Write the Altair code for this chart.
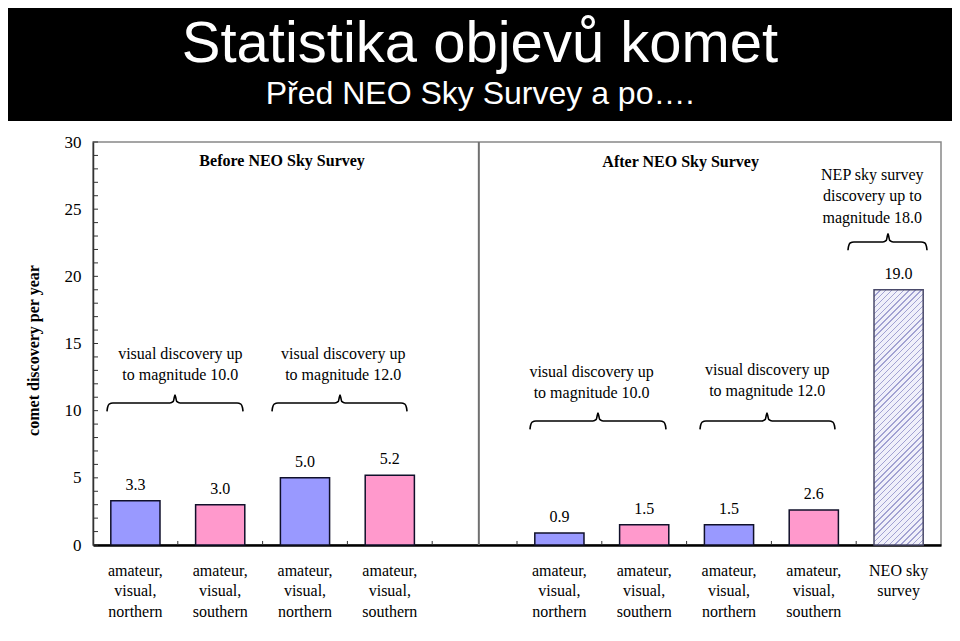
import altair as alt
import pandas as pd

# ---------------- data ----------------
TITLE = "Statistika objevů komet"
SUBTITLE = "Před NEO Sky Survey a po…."

slots = [0, 1, 2, 3, 5, 6, 7, 8, 9]
values = [3.3, 3.0, 5.0, 5.2, 0.9, 1.5, 1.5, 2.6, 19.0]
kinds = ["north", "south", "north", "south", "north", "south", "north", "south", "neo"]
slot_labels = [
    "amateur,|visual,|northern", "amateur,|visual,|southern",
    "amateur,|visual,|northern", "amateur,|visual,|southern",
    "",
    "amateur,|visual,|northern", "amateur,|visual,|southern",
    "amateur,|visual,|northern", "amateur,|visual,|southern",
    "NEO sky|survey",
]
y_title = "comet discovery per year"
y_label_values = [0, 5, 10, 15, 20, 25, 30]

panel_titles = ["Before NEO Sky Survey", "After NEO Sky Survey"]
panel_x = [2.23, 6.93]
panel_y = [28.6, 28.5]

notes = [
    "visual discovery up\nto magnitude 10.0",
    "visual discovery up\nto magnitude 12.0",
    "visual discovery up\nto magnitude 10.0",
    "visual discovery up\nto magnitude 12.0",
    "NEP sky survey\ndiscovery up to\nmagnitude 18.0",
]
note_x = [1.03, 2.95, 5.88, 7.95, 9.19]
note_y = [14.22, 14.22, 12.88, 13.03, 27.55]   # first line of each note

brace_x0 = [0.165, 2.111, 5.153, 7.158, 8.903]
brace_x1 = [1.769, 3.703, 6.757, 8.750, 9.835]
brace_xc = [0.967, 2.913, 5.955, 7.948, 9.375]
brace_y = [10.57, 10.57, 9.23, 9.23, 22.56]

divider_x = 4.55
minor_ticks_y = list(range(0, 31))
boundary_ticks_x = [1, 2, 3, 4, 5, 6, 7, 8, 9]

# ---------------- layout / style ----------------
W, H = 848, 403
SERIF = "Liberation Serif"
SANS = "Liberation Sans"
PAD_IN, PAD_OUT = 0.42, 0.21

yscale = alt.Scale(domain=[0, 30], nice=False, zero=True)
xq_scale = alt.Scale(domain=[0, 10], nice=False, zero=False)


def xo_scale():
    return alt.Scale(domain=list(range(10)), paddingInner=PAD_IN, paddingOuter=PAD_OUT)


def ysh(field):
    # shared y scale; axis properties come from the bars layer
    return alt.Y(field, type="quantitative", scale=yscale)


label_expr = "split(" + str(slot_labels) + "[datum.value], '|')"

df = pd.DataFrame({"slot": slots, "value": values, "kind": kinds})

# header band
header = alt.Chart(pd.DataFrame({"a": [0]})).mark_rect(color="black").encode(
    x=alt.value(-85), x2=alt.value(W + 11), y=alt.value(-134), y2=alt.value(-21)
)
title_txt = alt.Chart(pd.DataFrame({"t": [TITLE]})).mark_text(
    font=SANS, fontSize=58, color="white", align="center", baseline="alphabetic"
).encode(x=alt.value(387), y=alt.value(-80), text="t:N")
subtitle_txt = alt.Chart(pd.DataFrame({"t": [SUBTITLE]})).mark_text(
    font=SANS, fontSize=32, color="white", align="center", baseline="alphabetic"
).encode(x=alt.value(387), y=alt.value(-38), text="t:N")

# amateur bars (carry both axes)
bars = alt.Chart(df).transform_filter("datum.kind != 'neo'").mark_bar(
    stroke="#10102a", strokeWidth=1.5
).encode(
    x=alt.X("slot:O", scale=xo_scale(), axis=alt.Axis(
        labelExpr=label_expr, labelAngle=0, ticks=False, tickSize=0, grid=False,
        domainColor="black", domainWidth=2.5, labelFont=SERIF, labelFontSize=16,
        labelColor="black", labelLineHeight=20.5, labelPadding=17, title=None,
    )),
    y=alt.Y("value:Q", scale=yscale, axis=alt.Axis(
        values=y_label_values, ticks=False, tickSize=0, grid=False,
        domainColor="#333333", domainWidth=1.5, labelFont=SERIF, labelFontSize=17,
        labelColor="black", labelPadding=12, title=y_title, titleFont=SERIF,
        titleFontSize=16, titleFontWeight="bold", titleColor="black",
        titleAngle=270, titleX=-60, titleY=208, titleBaseline="middle", titleAlign="center",
    )),
    color=alt.Color("kind:N", scale=alt.Scale(domain=["north", "south"],
                                              range=["#9999FF", "#FF99CC"]), legend=None),
)

# hatched NEO bar via striped linear gradient
bar_w = W / 10 * (1 - PAD_IN)
bar_h = values[-1] / 30 * H
k = (bar_w + bar_h) / (bar_w ** 2 + bar_h ** 2)
gx2, gy2 = k * bar_w, k * bar_h
n_stripes = 52
frac = 0.24
stops = []
line_c, bg_c = "#a2a2d2", "#f0f0fa"
for i in range(n_stripes):
    o0 = i / n_stripes
    o1 = (i + frac) / n_stripes
    o2 = (i + 1) / n_stripes
    stops += [
        {"offset": round(o0, 5), "color": line_c},
        {"offset": round(o1, 5), "color": line_c},
        {"offset": round(o1, 5), "color": bg_c},
        {"offset": round(o2, 5), "color": bg_c},
    ]
hatch = {"gradient": "linear", "x1": 0, "y1": 0, "x2": gx2, "y2": gy2, "stops": stops}

neo_bar = alt.Chart(df).transform_filter("datum.kind == 'neo'").mark_bar(
    fill=hatch, stroke="#4a4a6a", strokeWidth=1.5
).encode(
    x=alt.X("slot:O", scale=xo_scale(), axis=None),
    y=ysh("value"),
)

value_labels = alt.Chart(df).mark_text(
    font=SERIF, fontSize=16, color="black", baseline="alphabetic", dy=-11
).encode(
    x=alt.X("slot:O", scale=xo_scale(), axis=None),
    y=ysh("value"),
    text=alt.Text("value:Q", format=".1f"),
)

# inward minor ticks on y axis
yticks = alt.Chart(pd.DataFrame({"value": minor_ticks_y})).mark_rule(
    color="#333333", strokeWidth=1
).encode(x=alt.value(0), x2=alt.value(5), y=ysh("value"))

# small ticks at category boundaries
xticks = alt.Chart(pd.DataFrame({"x": boundary_ticks_x, "value": 0.0, "v1": 0.3})).mark_rule(
    color="#333333", strokeWidth=1
).encode(
    x=alt.X("x:Q", scale=xq_scale, axis=None),
    y=ysh("value"), y2="v1:Q",
)

divider = alt.Chart(pd.DataFrame({"x": [divider_x], "value": [0], "v1": [30]})).mark_rule(
    color="#707070", strokeWidth=2
).encode(
    x=alt.X("x:Q", scale=xq_scale, axis=None),
    y=ysh("value"), y2="v1:Q",
)

# braces
rows = []
for b, (x0, x1, xc, yb) in enumerate(zip(brace_x0, brace_x1, brace_xc, brace_y)):
    d, r = 0.62, 0.6
    pts = [
        (x0, yb - d), (x0 + 0.006, yb - 0.35), (x0 + 0.025, yb - 0.08), (x0 + 0.07, yb),
        (xc - 0.06, yb), (xc - 0.02, yb + 0.12), (xc, yb + r), (xc + 0.02, yb + 0.12),
        (xc + 0.06, yb),
        (x1 - 0.07, yb), (x1 - 0.025, yb - 0.08), (x1 - 0.006, yb - 0.35), (x1, yb - d),
    ]
    for j, (px, py) in enumerate(pts):
        rows.append({"b": b, "k": j, "x": px, "value": py})
braces = alt.Chart(pd.DataFrame(rows)).mark_line(
    color="black", strokeWidth=1.6, interpolate="monotone"
).encode(
    x=alt.X("x:Q", scale=xq_scale, axis=None),
    y=ysh("value"),
    detail="b:N", order="k:Q",
)

notes_txt = alt.Chart(pd.DataFrame({"t": notes, "x": note_x, "value": note_y})).mark_text(
    font=SERIF, fontSize=16, color="black", align="center", baseline="middle",
    lineBreak="\n", lineHeight=21.5,
).encode(
    x=alt.X("x:Q", scale=xq_scale, axis=None),
    y=ysh("value"),
    text="t:N",
)

panel_txt = alt.Chart(pd.DataFrame({"t": panel_titles, "x": panel_x, "value": panel_y})).mark_text(
    font=SERIF, fontSize=16, fontWeight="bold", color="black", align="center", baseline="middle",
).encode(
    x=alt.X("x:Q", scale=xq_scale, axis=None),
    y=ysh("value"),
    text="t:N",
)

chart = alt.layer(
    header, title_txt, subtitle_txt, bars, neo_bar, value_labels,
    yticks, xticks, divider, braces, notes_txt, panel_txt,
).resolve_scale(x="independent").properties(
    width=W, height=H,
    autosize=alt.AutoSizeParams(type="none"),
    padding={"left": 85, "top": 134, "right": 11, "bottom": 88},
).configure(background="white").configure_view(stroke="#888888", strokeWidth=1.5)

chart.save("out.html", embed_options={"renderer": "svg", "actions": False})
